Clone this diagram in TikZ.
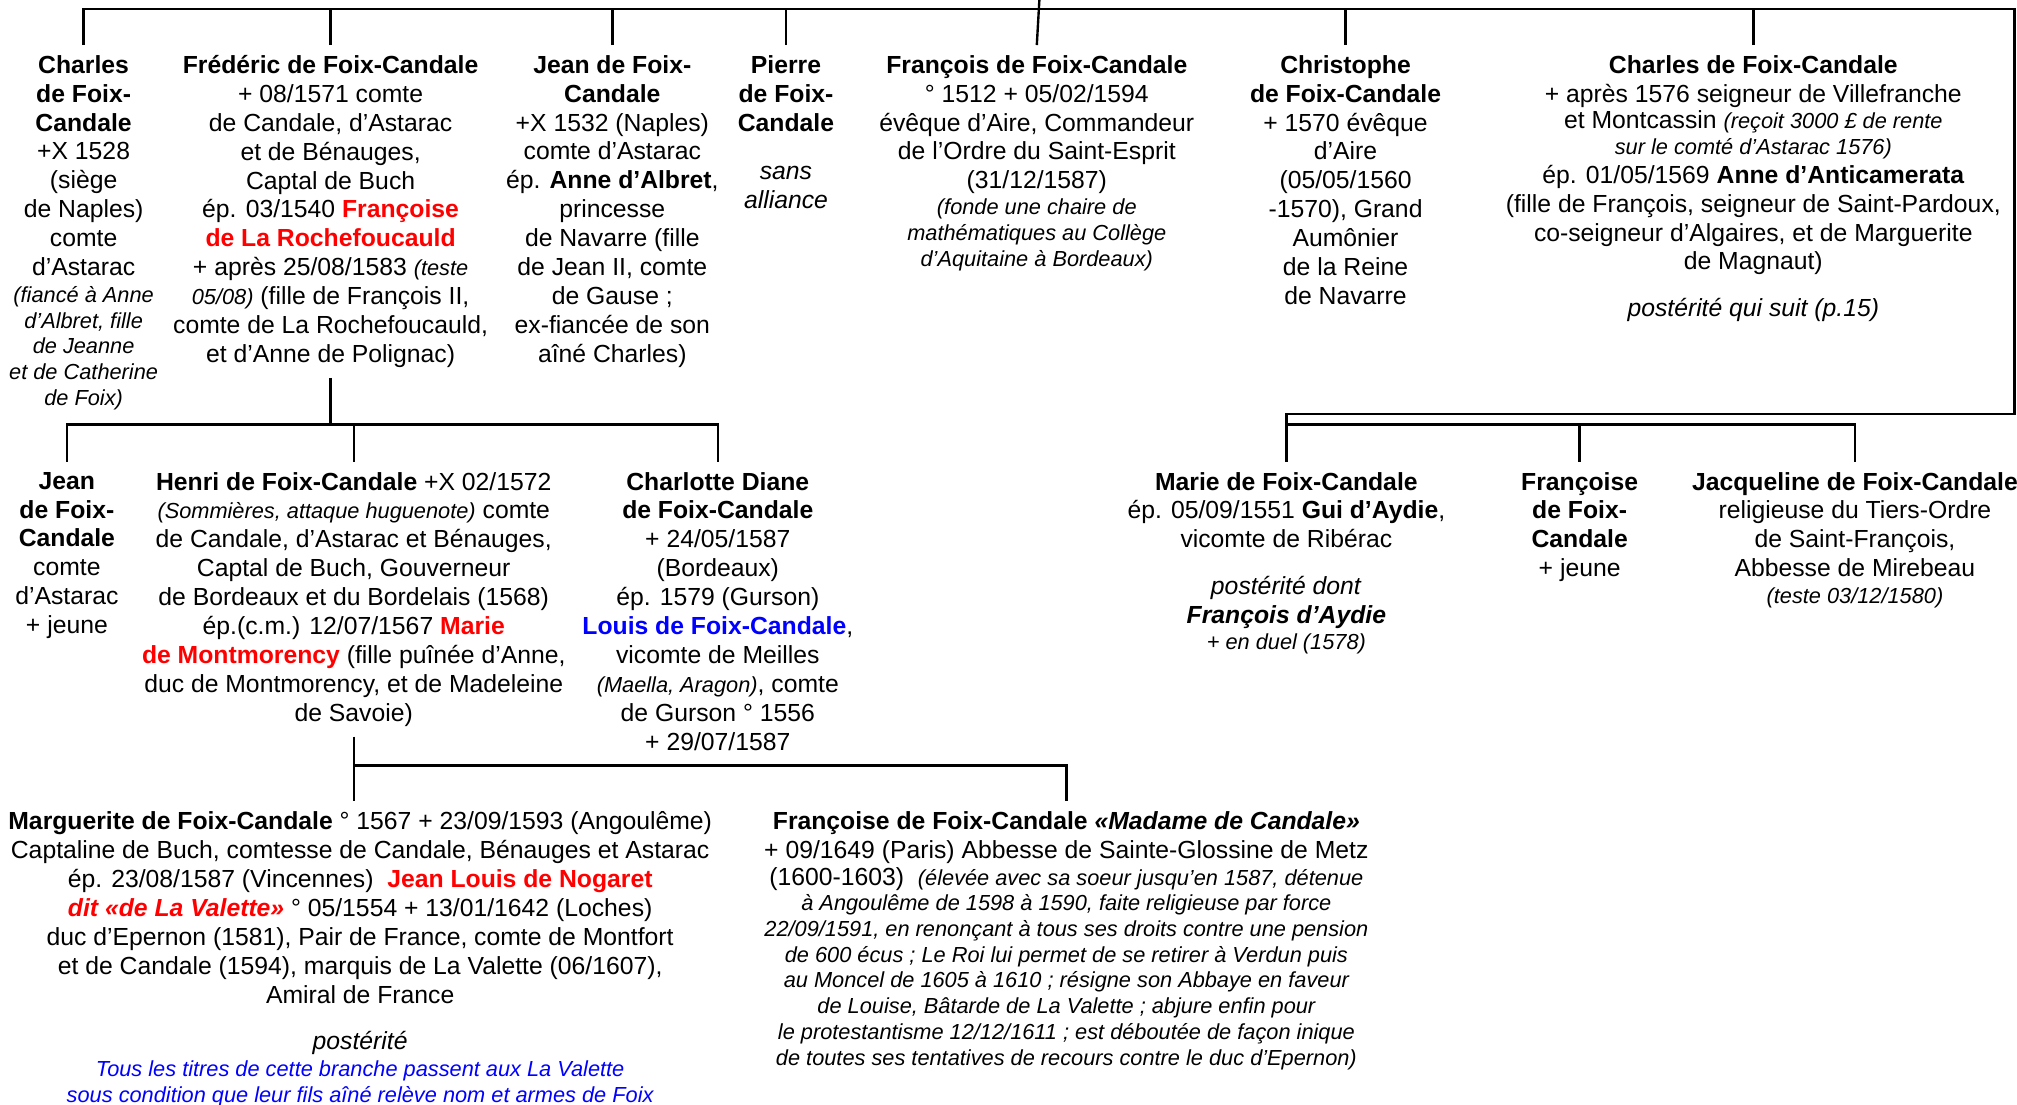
\documentclass[tikz,border=0pt]{standalone}
\usepackage{fontspec}
\setmainfont{Liberation Sans}
\usepackage{tikz}
\newcommand\smallnote[1]{{\fontsize{11}{13}\selectfont\itshape #1}}
\newcommand\redname[1]{\textcolor{red}{\textbf{#1}}}
\newcommand\bluename[1]{\textcolor{blue}{\textbf{#1}}}

\begin{document}
\begin{tikzpicture}[
    x = 0.65pt, y = -0.65pt,
    person/.style = {anchor=north, align=center, inner xsep=0pt, inner ysep=5pt,
                     font=\fontsize{12.5}{14.6}\selectfont},
    link/.style = {line width=1.2pt}
  ]
  \useasboundingbox (0,0) rectangle (1568,859);

  \coordinate (parent) at (808,0);
  \coordinate (topbar) at (0,7);
  \coordinate (rtop) at (1566,7);
  \coordinate (rbot) at (1566,322);
  \coordinate (midbar) at (0,330);
  \coordinate (sisbar) at (0,330);
  \coordinate (lowbar) at (0,595);

  % first generation
  \node[person] (charlesA) at (65,35) {\textbf{Charles}\\
    \textbf{de Foix-}\\
    \textbf{Candale}\\
    +X 1528\\
    (siège\\
    de Naples)\\
    comte\\
    d’Astarac\\[-1pt]
    \smallnote{(fiancé à Anne}\\[-1.6pt]
    \smallnote{d’Albret, fille}\\[-1.6pt]
    \smallnote{de Jeanne}\\[-1.6pt]
    \smallnote{et de Catherine}\\[-1.6pt]
    \smallnote{de Foix)}};

  \node[person] (frederic) at (257,35) {\textbf{Frédéric de Foix-Candale}\\
    + 08/1571 comte\\
    de Candale, d’Astarac\\
    et de Bénauges,\\
    Captal de Buch\\
    ép. 03/1540 \redname{Françoise}\\
    \redname{de La Rochefoucauld}\\
    + après 25/08/1583 \smallnote{(teste}\\
    \smallnote{05/08)} (fille de François II,\\
    comte de La Rochefoucauld,\\
    et d’Anne de Polignac)};

  \node[person] (jeanA) at (476,35) {\textbf{Jean de Foix-}\\
    \textbf{Candale}\\
    +X 1532 (Naples)\\
    comte d’Astarac\\
    ép. \textbf{Anne d’Albret},\\
    princesse\\
    de Navarre (fille\\
    de Jean II, comte\\
    de Gause ;\\
    ex-fiancée de son\\
    aîné Charles)};

  \node[person] (pierre) at (611,35) {\textbf{Pierre}\\
    \textbf{de Foix-}\\
    \textbf{Candale}\\[10pt]
    \textit{sans}\\
    \textit{alliance}};

  \node[person] (francoisA) at (806,35) {\textbf{François de Foix-Candale}\\
    ° 1512 + 05/02/1594\\
    évêque d’Aire, Commandeur\\
    de l’Ordre du Saint-Esprit\\
    (31/12/1587)\\[-1.6pt]
    \smallnote{(fonde une chaire de}\\[-1.6pt]
    \smallnote{mathématiques au Collège}\\[-1.6pt]
    \smallnote{d’Aquitaine à Bordeaux)}};

  \node[person] (christophe) at (1046,35) {\textbf{Christophe}\\
    \textbf{de Foix-Candale}\\
    + 1570 évêque\\
    d’Aire\\
    (05/05/1560\\
    -1570), Grand\\
    Aumônier\\
    de la Reine\\
    de Navarre};

  \node[person] (charlesB) at (1363,35) {\textbf{Charles de Foix-Candale}\\
    + après 1576 seigneur de Villefranche\\[-1.2pt]
    et Montcassin \smallnote{(reçoit 3000 £ de rente}\\[-1.6pt]
    \smallnote{sur le comté d’Astarac 1576)}\\
    ép. 01/05/1569 \textbf{Anne d’Anticamerata}\\
    (fille de François, seigneur de Saint-Pardoux,\\
    co-seigneur d’Algaires, et de Marguerite\\
    de Magnaut)\\[9pt]
    \textit{postérité qui suit (p.15)}};

  % sisters on the right
  \node[person] (marie) at (1000,359) {\textbf{Marie de Foix-Candale}\\
    ép. 05/09/1551 \textbf{Gui d’Aydie},\\
    vicomte de Ribérac\\[9pt]
    \textit{postérité dont}\\
    \textbf{\textit{François d’Aydie}}\\[-1.2pt]
    \smallnote{+ en duel (1578)}};

  \node[person] (francoiseC) at (1228,359) {\textbf{Françoise}\\
    \textbf{de Foix-}\\
    \textbf{Candale}\\
    + jeune};

  \node[person] (jacqueline) at (1442,359) {\textbf{Jacqueline de Foix-Candale}\\
    religieuse du Tiers-Ordre\\
    de Saint-François,\\
    Abbesse de Mirebeau\\[-1.2pt]
    \smallnote{(teste 03/12/1580)}};

  % children of Frederic
  \node[person] (jeanB) at (52,359) {\textbf{Jean}\\
    \textbf{de Foix-}\\
    \textbf{Candale}\\
    comte\\
    d’Astarac\\
    + jeune};

  \node[person] (henri) at (275,359) {\textbf{Henri de Foix-Candale} +X 02/1572\\
    \smallnote{(Sommières, attaque huguenote)} comte\\
    de Candale, d’Astarac et Bénauges,\\
    Captal de Buch, Gouverneur\\
    de Bordeaux et du Bordelais (1568)\\
    ép.(c.m.) 12/07/1567 \redname{Marie}\\
    \redname{de Montmorency} (fille puînée d’Anne,\\
    duc de Montmorency, et de Madeleine\\
    de Savoie)};

  \node[person] (charlotte) at (558,359) {\textbf{Charlotte Diane}\\
    \textbf{de Foix-Candale}\\
    + 24/05/1587\\
    (Bordeaux)\\
    ép. 1579 (Gurson)\\
    \bluename{Louis de Foix-Candale},\\
    vicomte de Meilles\\
    \smallnote{(Maella, Aragon)}, comte\\
    de Gurson ° 1556\\
    + 29/07/1587};

  % children of Henri
  \node[person] (margot) at (280,623) {\textbf{Marguerite de Foix-Candale} ° 1567 + 23/09/1593 (Angoulême)\\
    Captaline de Buch, comtesse de Candale, Bénauges et Astarac\\
    ép. 23/08/1587 (Vincennes)~ \redname{Jean Louis de Nogaret}\\
    \redname{\itshape dit «de La Valette»} ° 05/1554 + 13/01/1642 (Loches)\\
    duc d’Epernon (1581), Pair de France, comte de Montfort\\
    et de Candale (1594), marquis de La Valette (06/1607),\\
    Amiral de France\\[9pt]
    \textit{postérité}\\[-1.2pt]
    \textcolor{blue}{\smallnote{Tous les titres de cette branche passent aux La Valette}}\\[-1.6pt]
    \textcolor{blue}{\smallnote{sous condition que leur fils aîné relève nom et armes de Foix}}};

  \node[person] (francoiseB) at (829,623) {\textbf{Françoise de Foix-Candale \textit{«Madame de Candale»}}\\
    + 09/1649 (Paris) Abbesse de Sainte-Glossine de Metz\\[-1.2pt]
    (1600-1603)~ \smallnote{(élevée avec sa soeur jusqu’en 1587, détenue}\\[-1.6pt]
    \smallnote{à Angoulême de 1598 à 1590, faite religieuse par force}\\[-1.6pt]
    \smallnote{22/09/1591, en renonçant à tous ses droits contre une pension}\\[-1.6pt]
    \smallnote{de 600 écus ; Le Roi lui permet de se retirer à Verdun puis}\\[-1.6pt]
    \smallnote{au Moncel de 1605 à 1610 ; résigne son Abbaye en faveur}\\[-1.6pt]
    \smallnote{de Louise, Bâtarde de La Valette ; abjure enfin pour}\\[-1.6pt]
    \smallnote{le protestantisme 12/12/1611 ; est déboutée de façon inique}\\[-1.6pt]
    \smallnote{de toutes ses tentatives de recours contre le duc d’Epernon)}};

  % connectors
  \draw[link] (parent) -- (francoisA.north);
  \draw[link] (charlesA.north) |- (rtop) -- (rbot) -| (marie.north);
  \foreach \p in {frederic, jeanA, pierre, christophe, charlesB}
    \draw[link] (\p.north) -- (\p.north |- topbar);
  \draw[link] (marie.north |- sisbar) -| (jacqueline.north);
  \draw[link] (francoiseC.north) -- (francoiseC.north |- sisbar);

  \draw[link] (frederic.south) -- (frederic.south |- midbar);
  \draw[link] (jeanB.north) |- (charlotte.north |- midbar) -- (charlotte.north);
  \draw[link] (henri.north) -- (henri.north |- midbar);

  \draw[link] (henri.south) -- (henri.south |- lowbar) -| (francoiseB.north);
  \draw[link] (henri.south |- lowbar) -- (henri.south |- margot.north);

\end{tikzpicture}
\end{document}
